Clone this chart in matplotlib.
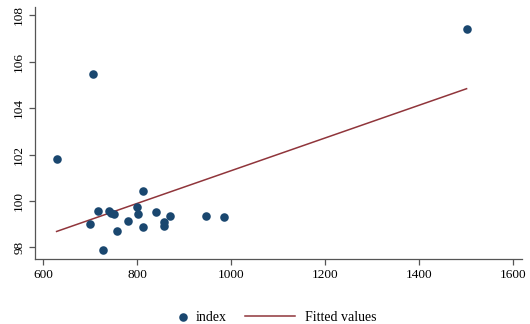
import matplotlib
matplotlib.use("Agg")
import matplotlib.pyplot as plt
import numpy as np

x_vals = [629, 706, 1501, 700, 718, 741, 744, 751, 757, 727, 780, 799, 803,
          813, 813, 840, 857, 857, 870, 946, 985]
index_vals = [101.8, 105.49, 107.41, 99.0, 99.58, 99.56, 99.5, 99.44, 98.7,
              97.9, 99.14, 99.75, 99.43, 100.45, 98.87, 99.53, 99.08, 98.92,
              99.37, 99.34, 99.3]
x_ticks = [600, 800, 1000, 1200, 1400, 1600]
y_ticks = [98, 100, 102, 104, 106, 108]

plt.rcParams['font.family'] = ['Liberation Serif', 'DejaVu Serif']

fig = plt.figure(figsize=(5.3, 3.24), dpi=100)
ax = fig.add_axes([0.066, 0.2006, 0.919, 0.777])

x = np.array(x_vals, dtype=float)
y = np.array(index_vals, dtype=float)
sc = ax.scatter(x, y, s=38, color='#1a476f', zorder=3, label='index', linewidths=0)
b, a = np.polyfit(x, y, 1)
xs = np.array([x.min(), x.max()])
ln, = ax.plot(xs, a + b * xs, color='#90353b', lw=1.1, label='Fitted values', zorder=2)

ax.set_xlim(583, 1619)
ax.set_ylim(97.5, 108.35)
ax.set_xticks(x_ticks)
ax.set_yticks(y_ticks)
ax.set_xticklabels([str(t) for t in x_ticks], fontsize=9.5)
ax.set_yticklabels([str(t) for t in y_ticks], fontsize=9.5, rotation=90, va='center')
for s in ['top', 'right']:
    ax.spines[s].set_visible(False)
for s in ['left', 'bottom']:
    ax.spines[s].set_color('#555555')
    ax.spines[s].set_linewidth(0.9)
ax.tick_params(direction='out', length=4, color='#555555', width=0.9, pad=3)

leg1 = fig.legend([sc], ['index'], loc='center left', bbox_to_anchor=(0.309, 0.02),
                  frameon=False, fontsize=10, handlelength=1.0, handletextpad=0.4)
leg2 = fig.legend([ln], ['Fitted values'], loc='center left', bbox_to_anchor=(0.439, 0.02),
                  frameon=False, fontsize=10, handlelength=3.6, handletextpad=0.72)

fig.savefig('out.png', dpi=100)
